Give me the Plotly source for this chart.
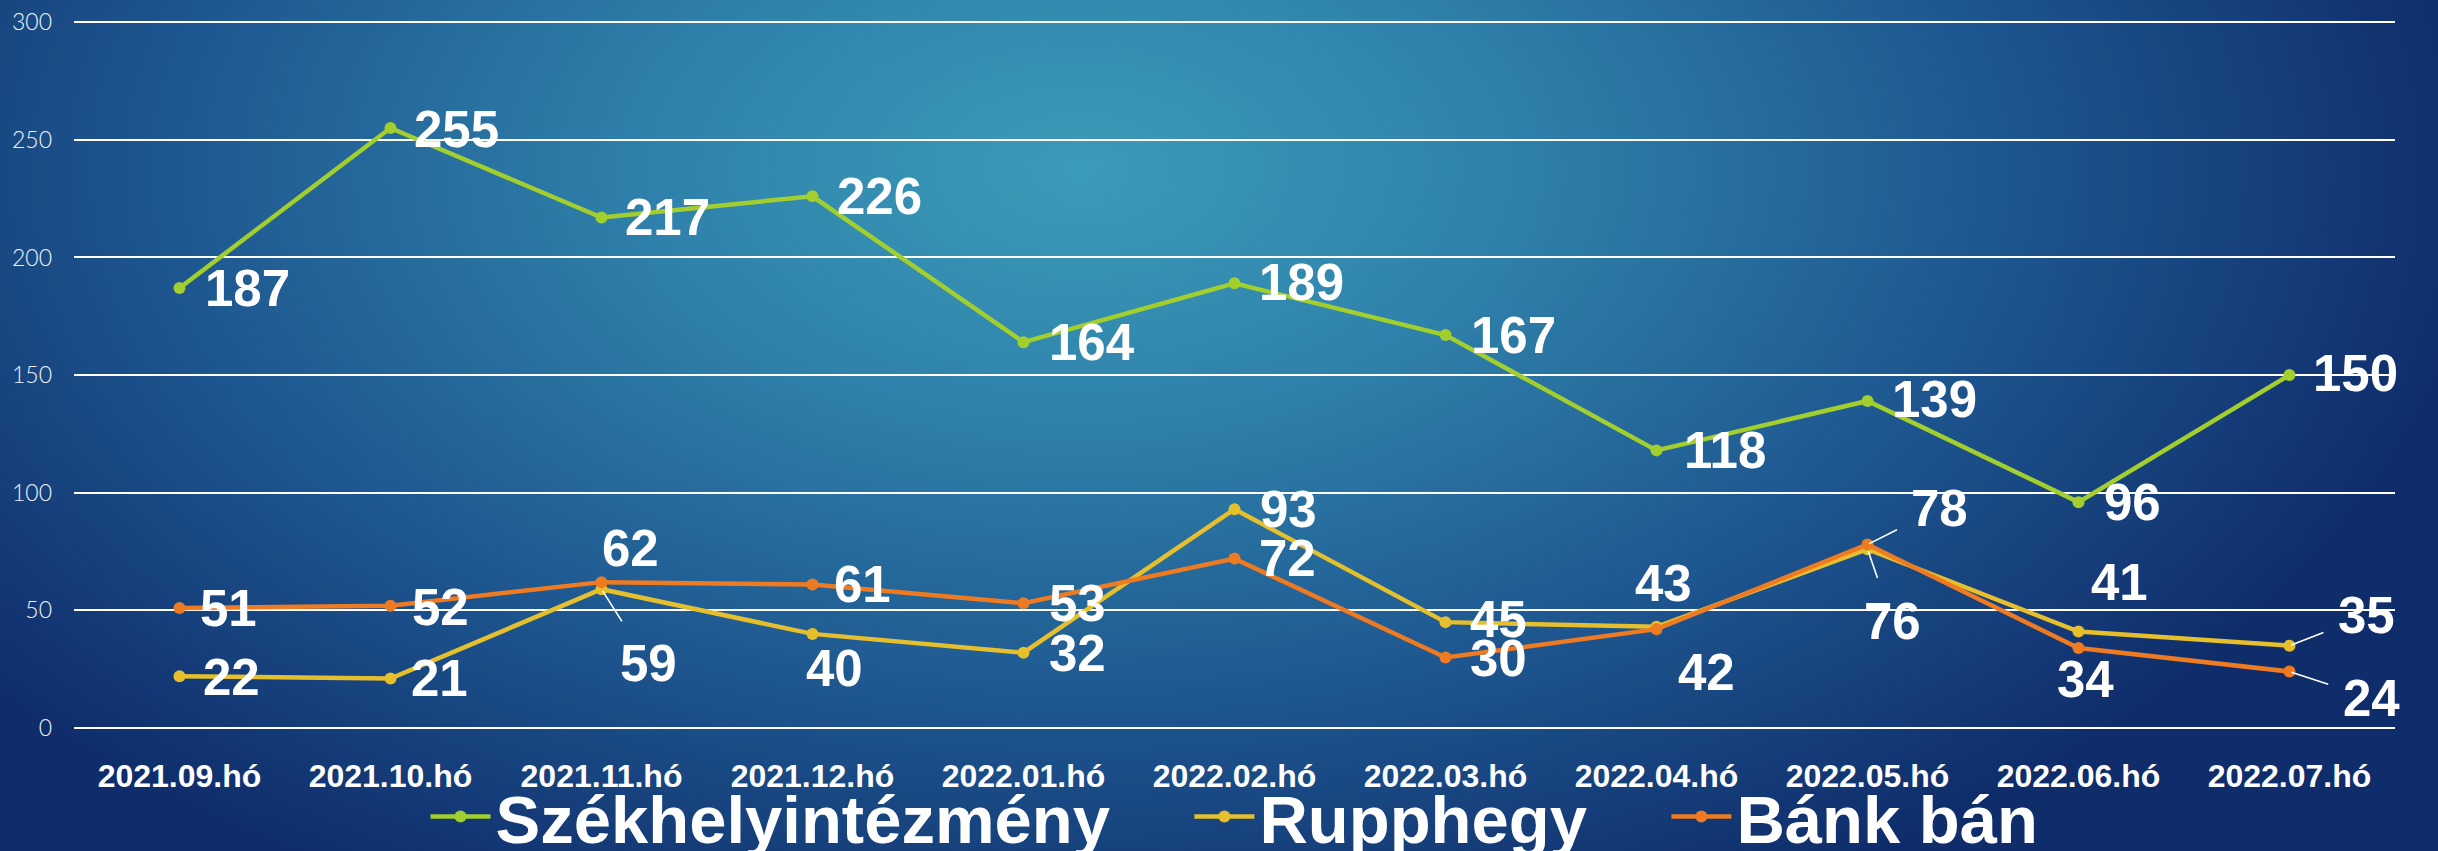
import base64
import plotly.graph_objects as go

# ---------------- data ----------------
categories = ["2021.09.hó", "2021.10.hó", "2021.11.hó", "2021.12.hó", "2022.01.hó",
              "2022.02.hó", "2022.03.hó", "2022.04.hó", "2022.05.hó", "2022.06.hó",
              "2022.07.hó"]
szekhely = [187, 255, 217, 226, 164, 189, 167, 118, 139, 96, 150]
rupphegy = [22, 21, 59, 40, 32, 93, 45, 43, 76, 41, 35]
bank_ban = [51, 52, 62, 61, 53, 72, 30, 42, 78, 34, 24]
series_names = ["Székhelyintézmény", "Rupphegy", "Bánk bán"]
y_ticks = [0, 50, 100, 150, 200, 250, 300]

# ---------------- styles ----------------
W, H = 2438, 851
M_L, M_R, M_T, M_B = 74, 43, 21, 123
colors = ["#a3cf2e", "#e6bf2c", "#ee7a22"]
FONT = "Liberation Sans, Arial, sans-serif"
NB = "\u00a0"
legend_pad = [NB * 4, NB * 4, ""]

# label offsets (screen px: dx right, dy down) and whether a leader line is drawn
green_off = [(68, 3), (66, 4), (66, 3), (67, 3), (68, 3), (67, 2), (68, 3), (68, 3), (67, 2), (54, 3), (66, 1)]
yellow_off = [(52, 4), (49, 3), (47, 77), (22, 38), (54, 4), (54, 3), (53, 0), (7, -40), (25, 75), (41, -46), (77, -27)]
orange_off = [(49, 3), (50, 5), (29, -31), (50, 3), (54, 3), (53, 3), (53, 4), (50, 46), (72, -33), (7, 34), (82, 30)]
yellow_lead = [False, False, True, False, False, False, False, False, True, False, True]
orange_lead = [False, False, False, False, False, False, False, False, True, False, True]
green_lead = [False] * 11

fig = go.Figure()
for name, pad, vals, col in zip(series_names, legend_pad, [szekhely, rupphegy, bank_ban], colors):
    fig.add_trace(go.Scatter(
        x=categories, y=vals, name=name + pad, mode="lines+markers",
        line=dict(color=col, width=4.5),
        marker=dict(color=col, size=12),
        hovertemplate="%{x}<br>" + name + ": %{y}<extra></extra>",
    ))

annotations = []
for vals, offs, leads in [(szekhely, green_off, green_lead),
                          (rupphegy, yellow_off, yellow_lead),
                          (bank_ban, orange_off, orange_lead)]:
    for cat, v, (dx, dy), lead in zip(categories, vals, offs, leads):
        a = dict(x=cat, y=v, xref="x", yref="y", text=str(v),
                 font=dict(family=FONT, size=51, color="white", weight=700),
                 xanchor="center", yanchor="middle")
        if lead:
            a.update(showarrow=True, ax=dx, ay=dy - 3, axref="pixel", ayref="pixel",
                     arrowhead=0, arrowwidth=1.6, arrowcolor="white",
                     standoff=2, startstandoff=14)
        else:
            a.update(showarrow=False, xshift=dx, yshift=-dy + 3)
        annotations.append(a)

# background gradient as an SVG image
svg = (
    f'<svg xmlns="http://www.w3.org/2000/svg" width="{W}" height="{H}" viewBox="0 0 {W} {H}" '
    'preserveAspectRatio="none"><defs>'
    '<radialGradient id="g" gradientUnits="userSpaceOnUse" cx="0" cy="0" r="1" '
    'gradientTransform="translate(1080 170) scale(1400 820)">'
    '<stop offset="0" stop-color="#3c9bb8"/>'
    '<stop offset="0.3" stop-color="#2f82ab"/>'
    '<stop offset="0.65" stop-color="#1e5790"/>'
    '<stop offset="1" stop-color="#0f2d6b"/>'
    '</radialGradient></defs>'
    f'<rect width="{W}" height="{H}" fill="url(#g)"/></svg>'
)
src = "data:image/svg+xml;base64," + base64.b64encode(svg.encode()).decode()
pw = W - M_L - M_R
ph = H - M_T - M_B

fig.update_layout(
    width=W, height=H,
    margin=dict(l=M_L, r=M_R, t=M_T, b=M_B, autoexpand=False),
    paper_bgcolor="#163f7a",
    plot_bgcolor="rgba(0,0,0,0)",
    images=[dict(source=src, xref="paper", yref="paper",
                 x=-M_L / pw, y=1 + M_T / ph, sizex=W / pw, sizey=H / ph,
                 xanchor="left", yanchor="top", sizing="stretch", layer="below")],
    xaxis=dict(
        type="category", range=[-0.5, 10.5], showgrid=False, zeroline=False,
        showline=False, ticks="",
        tickfont=dict(family=FONT, size=32, color="white", weight=700),
        ticklabelstandoff=26,
    ),
    yaxis=dict(
        range=[0, 300.5], tickvals=y_ticks, showgrid=True, gridcolor="white", gridwidth=2,
        zeroline=True, zerolinecolor="white", zerolinewidth=2, showline=False, ticks="",
        tickfont=dict(family="Lato, " + FONT, size=23, color="#eef3f8", weight=300),
        ticklabelstandoff=21,
    ),
    legend=dict(
        orientation="h", x=0.5, xanchor="center", y=-(817 - (H - M_B)) / ph, yanchor="middle",
        font=dict(family=FONT, size=67, color="white", weight=700),
        bgcolor="rgba(0,0,0,0)", itemwidth=60,
    ),
    annotations=annotations,
    showlegend=True,
)

fig.write_html(
    "out.html",
    config={"displayModeBar": False},
    post_script="document.body.style.margin='0';document.body.style.overflow='hidden';",
)
